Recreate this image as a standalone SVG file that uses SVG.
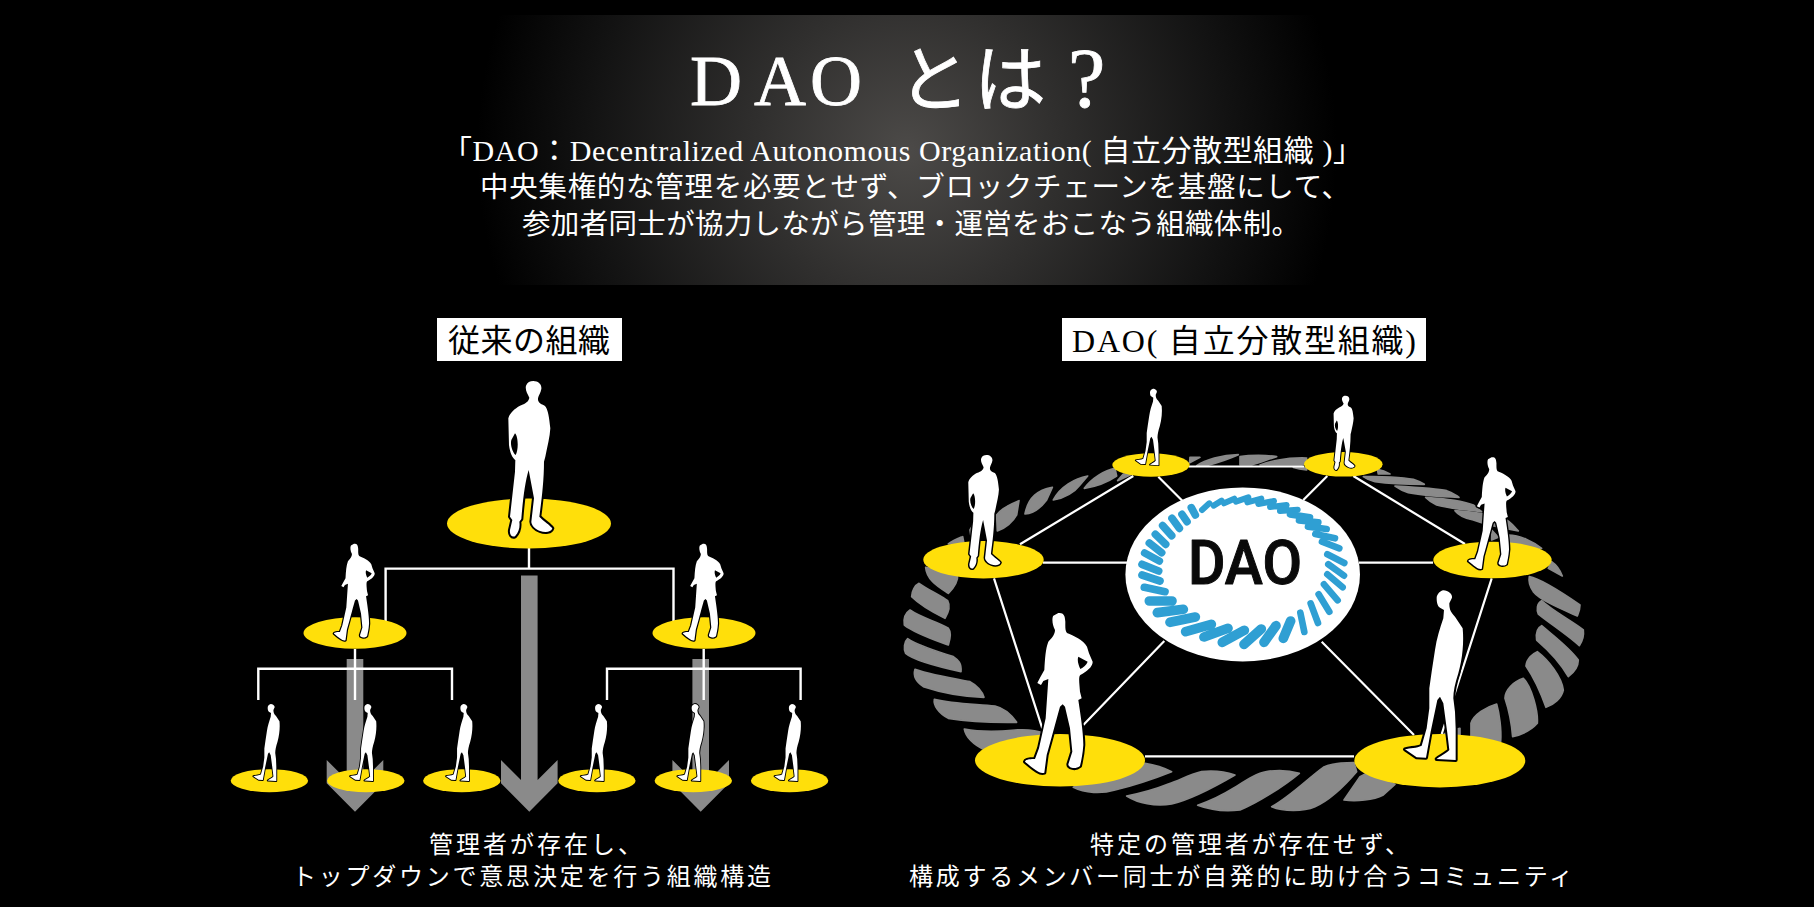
<svg xmlns="http://www.w3.org/2000/svg" width="1814" height="907" viewBox="0 0 1814 907">
<defs>
<radialGradient id="glow" gradientUnits="userSpaceOnUse" cx="907" cy="150" r="430">
<stop offset="0" stop-color="#4c4a48"/><stop offset=".35" stop-color="#302f2e"/><stop offset=".75" stop-color="#121212"/><stop offset="1" stop-color="#000"/>
</radialGradient>
<path id="figA" class="fig" d="M190 18C205 18 216 28 214 42C212 54 206 60 204 70C203 80 208 86 224 92C234 100 238 130 241 160C240 185 232 215 226 245L222 260C222 320 214 380 208 425C222 440 240 450 247 460C244 472 225 474 210 468C195 462 184 450 184 440L192 370L176 285C165 320 158 380 154 432L148 440C150 455 148 470 135 484C125 488 118 478 120 465L127 435L120 425L135 290L136 255C128 250 120 235 117 210L115 130C118 115 135 100 150 92C170 85 176 78 178 68C172 55 165 45 168 32C172 22 180 18 190 18ZM135 175C145 185 146 225 137 240C128 232 120 210 124 195Z"/>
<path id="figB" class="fig" d="M130 24C145 22 150 30 151 50C151 65 150 78 156 84C175 92 205 105 216 125L222 145L233 170C234 185 215 200 196 210C190 215 193 235 195 260L200 280L190 285C195 320 205 380 205 420C203 450 198 470 195 483C180 495 160 488 160 478L172 440L165 370L150 305L143 298L135 305C125 340 115 380 95 450L88 503C75 508 60 495 30 470C32 462 50 462 60 462L72 430L92 340L100 222L85 228L78 240L67 234L75 218L88 195C90 160 92 130 100 110C115 95 120 85 120 75C112 60 110 40 115 32ZM190 155L218 170C215 180 205 187 196 192C190 180 186 165 190 155Z"/>
<path id="figC" class="fig" d="M160 16C175 16 188 28 186 38L178 55C178 70 180 80 195 95L218 130C222 170 218 220 205 265C195 295 190 320 190 340L195 380L197 430L197 525L140 522C145 516 170 505 178 495L172 445L160 355L150 335L142 345L122 440L108 518L80 517L45 493C60 488 80 490 95 482L110 430L118 370L118 310L125 260L135 195C140 160 150 130 160 100L162 75L150 68C142 65 140 50 140 40C140 28 150 18 160 16Z"/>
<path id="arrowLong" class="arr" d="M-8.300 -236.200V-31.700L-28.300 -51.700V-28.400L0 0L28.300 -28.400V-51.700L8.300 -31.700V-236.200Z"/>
<path id="arrowShort" class="arr" d="M-8.300 -152.700V-31.700L-28.300 -51.700V-28.400L0 0L28.300 -28.400V-51.700L8.300 -31.700V-152.700Z"/>
</defs>
<style>
.fig{fill:#fff;stroke:#000;stroke-width:12;paint-order:stroke;fill-rule:evenodd;stroke-linejoin:round}
.arr{fill:#8a8a8a}
.rope path{fill:#8a8a8a;stroke:#8a8a8a;stroke-width:5;stroke-linejoin:round}
.pad{fill:#ffdf0a}
.line{fill:none;stroke:#fff;stroke-width:2.200}
.tree{fill:none;stroke:#fff;stroke-width:2.400}
.t{fill:#fff;font-family:"Liberation Serif","Noto Sans CJK JP",serif;font-weight:400}
.k{fill:#000;font-family:"Liberation Serif","Noto Sans CJK JP",serif;font-size:32px;font-weight:400}
.b{fill:none;stroke:#2f9fd3;stroke-linecap:round}
</style>
<rect width="1814" height="907" fill="#000"/>
<rect id="glow-panel" x="450" y="15" width="914" height="270" fill="url(#glow)"/>
<g id="heading">
<text class="t" font-size="72" stroke="#fff" stroke-width=".8" x="690 754 810 898 974" y="105">DAOとは</text>
<text class="t" font-size="84" stroke="#fff" stroke-width=".8" x="1068" y="107">?</text>
<text class="t" font-size="30" x="442" y="161" textLength="921">「DAO：Decentralized Autonomous Organization( 自立分散型組織 )」</text>
<text class="t" font-size="28.500" x="480" y="197" textLength="870">中央集権的な管理を必要とせず、ブロックチェーンを基盤にして、</text>
<text class="t" font-size="28.500" x="522" y="234" textLength="778">参加者同士が協力しながら管理・運営をおこなう組織体制。</text>
</g>
<g id="label-left"><rect x="437" y="318" width="185" height="43" fill="#fff"/><text class="k" x="448" y="352" textLength="162">従来の組織</text></g>
<g id="label-right"><rect x="1062" y="318" width="364" height="43" fill="#fff"/><text class="k" x="1072" y="352" textLength="344">DAO( 自立分散型組織)</text></g>

<g id="tree-arrows">
<use href="#arrowShort" transform="translate(355 811.700)"/>
<use href="#arrowLong" transform="translate(529.300 811.700)"/>
<use href="#arrowShort" transform="translate(700.700 811.700)"/>
</g>
<g id="tree-connectors">
<path class="tree" d="M529 548V568.600M385.600 622V568.600H673.500V622"/>
<path class="tree" d="M355 649V700M258.300 700V668.700H452V700"/>
<path class="tree" d="M703.700 649V700M607 700V668.700H800.600V700"/>
</g>
<g id="tree-top"><ellipse class="pad" cx="529" cy="523.500" rx="82" ry="25"/><use href="#figA" transform="translate(470 375) scale(.3333)"/></g>
<g id="tree-mid-1"><ellipse class="pad" cx="355" cy="633" rx="51.500" ry="15.700"/><use href="#figB" transform="translate(327.800 539) scale(.2013)"/></g>
<g id="tree-mid-2"><ellipse class="pad" cx="704" cy="633" rx="51.500" ry="15.700"/><use href="#figB" transform="translate(676.700 539) scale(.2013)"/></g>
<g id="tree-low-1"><ellipse class="pad" cx="269.400" cy="780.700" rx="38.700" ry="11.500"/><use href="#figC" transform="translate(246.500 701.600) scale(.1513)"/></g>
<g id="tree-low-2"><ellipse class="pad" cx="365.800" cy="780.700" rx="38.700" ry="11.500"/><use href="#figC" transform="translate(343.200 701.600) scale(.1513)"/></g>
<g id="tree-low-3"><ellipse class="pad" cx="461.800" cy="780.700" rx="38.700" ry="11.500"/><use href="#figC" transform="translate(439.200 701.600) scale(.1513)"/></g>
<g id="tree-low-4"><ellipse class="pad" cx="596.900" cy="780.700" rx="38.700" ry="11.500"/><use href="#figC" transform="translate(573.900 701.600) scale(.1513)"/></g>
<g id="tree-low-5"><ellipse class="pad" cx="693.300" cy="780.700" rx="38.700" ry="11.500"/><use href="#figC" transform="translate(670.500 701.600) scale(.1513)"/></g>
<g id="tree-low-6"><ellipse class="pad" cx="789.600" cy="780.700" rx="38.700" ry="11.500"/><use href="#figC" transform="translate(767.700 701.600) scale(.1513)"/></g>

<g id="rope" class="rope">
<g transform="translate(895 450) scale(.3333)">
<path d="M92 352L188 372C190 395 175 415 160 430C130 410 95 390 92 352Z"/>
<path d="M72 400C60 405 50 425 50 440C75 465 120 490 150 505C162 485 165 465 158 452C135 435 100 420 72 400Z"/>
<path d="M45 480C30 490 25 505 28 525C60 550 120 570 160 585C168 560 168 545 160 535C130 515 80 505 45 480Z"/>
<path d="M884 38L915 22L885 22Z"/>
<path d="M905 47C930 30 980 15 1030 14C1000 28 960 40 935 47Z"/>
<path d="M668 92L712 72L685 72Z"/>
<path d="M660 55C630 60 590 85 568 115C600 110 640 95 665 78Z"/>
<path d="M578 78C540 85 495 110 475 150C510 145 540 125 555 105Z"/>
<path d="M472 112C430 120 400 140 390 192C420 190 440 170 455 150Z"/>
<path d="M372 152C340 165 315 180 305 195L307 243C330 235 355 215 365 195Z"/>
<path d="M225 240L232 228L240 270L228 260Z"/>
<path d="M160 282C175 270 190 265 203 260L207 280Z"/>
</g>
<g transform="translate(895 630) scale(.3333)">
<path d="M38 26C28 35 25 55 32 70C55 90 130 110 198 125C200 100 190 90 175 80C130 65 75 50 38 26Z"/>
<path d="M60 118C55 135 62 155 85 170C130 185 200 200 267 202C262 185 245 165 225 155C170 145 110 135 60 118Z"/>
<path d="M118 208C115 225 130 250 160 265C220 275 300 278 365 277C350 255 330 235 300 228C240 222 175 222 118 208Z"/>
<path d="M208 297C212 320 235 345 270 360L300 350L440 330L445 310C420 298 390 298 360 300C310 305 250 305 208 297Z"/>
<path d="M535 472C570 490 620 492 660 480C720 465 780 445 830 425C810 415 780 405 750 400L600 440Z"/>
<path d="M695 498C730 520 780 530 830 522C880 510 960 470 1020 435C990 425 950 422 920 425C880 435 860 448 820 462C780 478 735 490 695 498Z"/>
</g>
<g transform="translate(1240 630) scale(.3333)">
<path d="M-127 526C-90 540 -40 545 0 540C50 520 130 470 178 430C150 422 110 420 80 425C50 430 20 450 -20 475C-60 500 -95 515 -127 526Z"/>
<path d="M95 530C130 545 190 545 225 530C270 510 320 460 350 425L342 398C310 398 270 402 250 412C210 440 150 500 95 530Z"/>
<path d="M312 510C350 515 400 510 430 495L465 463L380 430L360 440Z"/>
<path d="M605 318C620 305 640 298 660 295L660 320Z"/>
<path d="M693 280C700 255 740 230 770 222C778 250 785 300 782 335L693 320Z"/>
<path d="M795 205C795 180 820 155 850 145C875 170 895 245 892 280C870 305 840 315 818 320C815 280 805 235 795 205Z"/>
<path d="M858 108C860 85 880 70 892 65C925 90 965 140 970 180C965 205 940 225 918 232C905 195 880 140 858 108Z"/>
<path d="M905 -13C888 -5 888 15 890 30C925 60 960 95 985 140C1005 125 1015 110 1015 90C990 55 950 25 905 -13Z"/>
</g>
<g transform="translate(1240 450) scale(.3333)">
<path d="M868 380C895 385 940 410 1020 465C1020 480 1015 490 1012 498C960 475 900 450 880 425C870 410 865 395 868 380Z"/>
<path d="M905 452C890 460 890 480 895 492C930 520 990 560 1018 587C1030 570 1032 555 1030 540C1000 515 940 485 905 452Z"/>
<path d="M935 335C950 345 960 360 967 378L925 355Z"/>
<path d="M805 255C840 255 880 275 905 295L860 290L805 275Z"/>
<path d="M755 240L775 262L755 270Z"/>
<path d="M645 182C690 185 740 190 790 205C815 215 825 235 835 243C790 235 740 225 700 210C675 205 655 195 645 182Z"/>
<path d="M557 142C600 145 660 150 700 165L725 185C680 180 625 175 590 165C575 158 565 150 557 142Z"/>
<path d="M465 108C500 110 590 115 620 122C635 128 650 135 657 142C600 140 540 135 505 128C485 122 475 115 465 108Z"/>
<path d="M370 80C420 78 490 82 520 88C535 93 545 98 553 103C500 103 440 100 405 95C390 92 378 86 370 80Z"/>
<path d="M412 58C425 60 440 66 450 72L415 72Z"/>
<path d="M0 20C30 15 80 15 110 20C85 28 60 38 35 45L0 45Z"/>
<path d="M60 45C90 35 130 22 200 24L195 40L185 45Z"/>
<path d="M160 52L200 52L200 60C185 58 170 55 160 52Z"/>
</g>
</g>

<g id="dao-connectors">
<path class="line" d="M1189 466.500H1304M1043 562.700H1128M1359 562.700H1433M1158.300 476.700L1182.300 500.700M1327.300 476L1303.300 500M1020 544.300L1133.300 476M1353.300 476L1465 544M994 578.300L1042.300 728.300M1491.700 578.300L1441.700 734M1164.300 641L1083.300 725M1321.700 641.700L1414 735M1145 756.300H1354"/>
</g>
<g id="dao-center">
<ellipse cx="1242.700" cy="574.400" rx="117.300" ry="87" fill="#fff"/>
<g transform="translate(1120 485) scale(.3333)">
<path class="b" stroke-width="18" d="M246 75L268 55M281 62L305 47M312 55L343 41M348 50L385 37M382 52L424 41M415 57L462 48M450 66L500 60M480 78L533 74"/>
<path class="b" stroke-width="20" d="M510 88L570 97M537 106L595 112M564 125L620 132M586 147L645 160M606 170L658 190M622 208L673 234M625 238L672 272M622 268L668 307M612 298L653 346M596 328L628 380M572 355L594 414M541 383L553 441"/>
<path class="b" stroke-width="29" d="M512 408L490 460M468 422L432 472M424 432L372 478M373 436L307 472M324 430L252 456M274 418L197 440M226 396L150 412M190 373L112 383M156 348L88 348"/>
<path class="b" stroke-width="23" d="M135 320L73 307M120 288L66 270M116 258L66 238M118 228L74 204M125 203L88 174M137 178L106 148M155 152L128 122M178 130L156 100M201 110L186 88M226 90L214 68"/>
</g>
<text x="1188" y="584" font-family="Roboto,'Liberation Sans',sans-serif" font-weight="500" font-size="61" fill="#0a0a0a" stroke="#0a0a0a" stroke-width="1" stroke-linejoin="round" textLength="114" lengthAdjust="spacingAndGlyphs">DAO</text>
</g>
<g id="dao-top-left"><ellipse class="pad" cx="1151" cy="465" rx="38.700" ry="11.700"/><use href="#figC" transform="translate(1129 386.400) scale(.15)"/></g>
<g id="dao-top-right"><ellipse class="pad" cx="1343.300" cy="464.300" rx="39.300" ry="12.300"/><use href="#figA" transform="translate(1315.300 392.800) scale(.159)"/></g>
<g id="dao-left"><ellipse class="pad" cx="983.500" cy="559.700" rx="60.200" ry="18.700"/><use href="#figA" transform="translate(940.300 450.600) scale(.2433)"/></g>
<g id="dao-right"><ellipse class="pad" cx="1492.500" cy="560" rx="59.200" ry="18.300"/><use href="#figB" transform="translate(1461.300 451.700) scale(.2328)"/></g>
<g id="dao-bottom-left"><ellipse class="pad" cx="1060" cy="760.300" rx="85" ry="26.300"/><use href="#figB" transform="translate(1015 605) scale(.3333)"/></g>
<g id="dao-bottom-right"><ellipse class="pad" cx="1439.800" cy="760.700" rx="85.500" ry="26.700"/><use href="#figC" transform="translate(1390 585) scale(.3333)"/></g>

<g id="captions">
<text class="t" font-size="24" x="429" y="853" textLength="213">管理者が存在し、</text>
<text class="t" font-size="24" x="292" y="885" textLength="479">トップダウンで意思決定を行う組織構造</text>
<text class="t" font-size="24" x="1090" y="853" textLength="319">特定の管理者が存在せず、</text>
<text class="t" font-size="24" x="909" y="885" textLength="664">構成するメンバー同士が自発的に助け合うコミュニティ</text>
</g>
</svg>
